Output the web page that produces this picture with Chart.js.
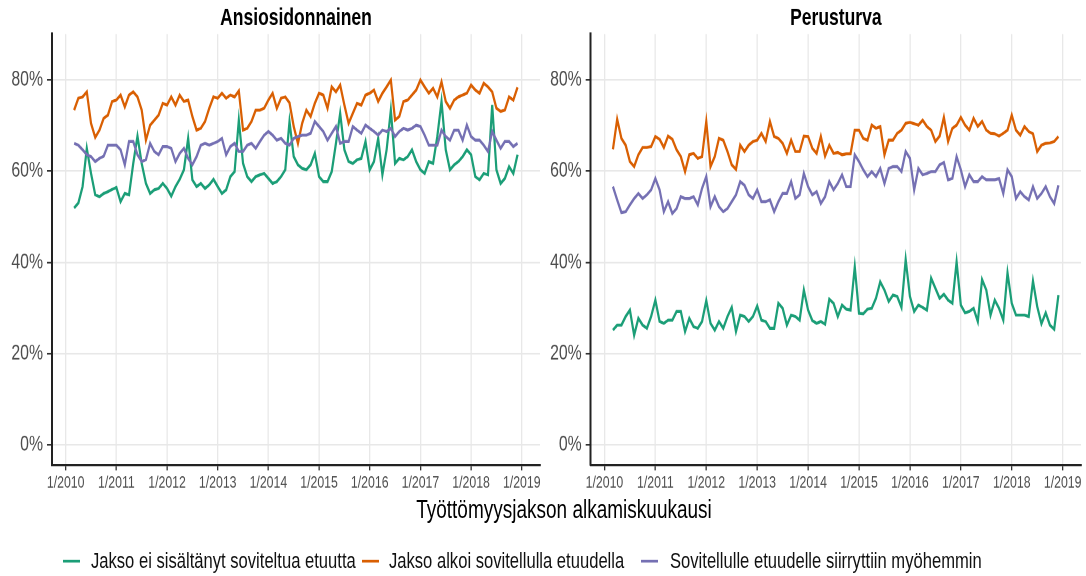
<!DOCTYPE html>
<html>
<head>
<meta charset="utf-8">
<script src="https://cdn.jsdelivr.net/npm/chart.js@4/dist/chart.umd.min.js"></script>
<style>
  html, body { margin: 0; padding: 0; background: #fff; overflow: hidden; }
  /* the reference is drawn on a 1086x427 sheet that is stretched vertically */
  #page {
    position: absolute; left: 0; top: 0; width: 1086px; height: 427px;
    transform-origin: 0 0; transform: scale(1, 1.349);
    font-family: "Liberation Sans", Arial, sans-serif;
  }
  #leftCanvas { position: absolute; left: 0; top: 0; }
  #rightCanvas { position: absolute; left: 545px; top: 0; }
  .xtitle {
    position: absolute; left: 364px; top: 367px; width: 400px;
    text-align: center; font-size: 19px; line-height: 22px; color: #000;
  }
  .swatch { position: absolute; top: 415px; width: 17px; height: 2.4px; }
  .legtext { position: absolute; top: 406px; font-size: 16.6px; line-height: 20px; color: #111; white-space: nowrap; }
</style>
</head>
<body>
<div id="page">
  <canvas id="leftCanvas" width="545" height="370"></canvas>
  <canvas id="rightCanvas" width="541" height="370"></canvas>
  <div class="xtitle">Työttömyysjakson alkamiskuukausi</div>
  <div class="swatch" style="left:63px;background:#1B9E77"></div>
  <div class="legtext" style="left:91px">Jakso ei sisältänyt soviteltua etuutta</div>
  <div class="swatch" style="left:362px;background:#D95F02"></div>
  <div class="legtext" style="left:389px">Jakso alkoi sovitellulla etuudella</div>
  <div class="swatch" style="left:641px;background:#7570B3"></div>
  <div class="legtext" style="left:670px">Sovitellulle etuudelle siirryttiin myöhemmin</div>
</div>
<script>
// Monthly series, 3/2010 ... 12/2018 (106 months), values in percent
const firstYear = 2010;
const firstMonth = 3;

const seriesNames = [
    'Jakso ei sisältänyt soviteltua etuutta',
    'Jakso alkoi sovitellulla etuudella',
    'Sovitellulle etuudelle siirryttiin myöhemmin'
];
const seriesColors = ['#1B9E77', '#D95F02', '#7570B3'];

const yearTicks = [2010, 2011, 2012, 2013, 2014, 2015, 2016, 2017, 2018, 2019];
const percentTicks = [0, 20, 40, 60, 80];

// Ansiosidonnainen
const ansioGreen = [
    51.9, 53.0, 56.6, 65.0, 59.5, 54.8, 54.4, 55.1, 55.5, 56.0,
    56.4, 53.3, 55.1, 54.8, 61.7, 67.7, 61.7, 57.3, 55.1, 55.9,
    56.2, 57.3, 56.2, 54.5, 56.6, 58.2, 60.3, 67.2, 58.1, 56.6,
    57.3, 56.2, 57.0, 58.2, 56.6, 55.1, 55.9, 58.8, 59.9, 71.2,
    61.7, 58.8, 57.7, 58.8, 59.2, 59.5, 58.4, 57.3, 57.7, 58.8,
    60.3, 70.9, 63.2, 61.4, 60.6, 60.3, 61.4, 63.9, 58.8, 57.7,
    57.7, 59.9, 66.1, 72.7, 64.7, 62.1, 61.7, 62.5, 62.8, 66.5,
    60.3, 62.1, 67.2, 59.2, 64.7, 73.4, 61.7, 62.8, 62.5, 63.2,
    64.7, 62.1, 60.3, 59.5, 62.1, 61.7, 67.6, 75.3, 64.7, 60.3,
    61.4, 62.1, 63.2, 64.7, 63.6, 58.8, 58.1, 59.5, 59.2, 74.5,
    60.3, 57.3, 58.4, 61.0, 59.5, 63.6
];
const ansioOrange = [
    73.4, 76.0, 76.3, 77.4, 70.5, 67.4, 69.0, 71.6, 72.3, 75.3,
    75.6, 76.7, 74.1, 76.7, 77.4, 76.3, 73.4, 66.8, 70.1, 71.2,
    72.3, 74.9, 74.5, 76.3, 74.5, 76.7, 75.3, 75.6, 72.0, 69.0,
    69.4, 70.9, 73.8, 76.3, 76.0, 77.1, 76.0, 76.7, 76.3, 77.6,
    69.0, 69.4, 70.9, 73.4, 73.4, 73.8, 75.6, 77.1, 73.8, 76.0,
    76.3, 75.0, 69.8, 66.1, 70.5, 73.4, 72.0, 74.9, 77.1, 76.7,
    73.8, 78.5, 77.4, 78.9, 74.5, 70.5, 72.7, 74.9, 74.5, 76.7,
    77.1, 77.8, 75.3, 77.1, 78.5, 80.0, 71.2, 72.0, 75.3, 75.6,
    76.7, 77.8, 80.0, 78.5, 77.1, 78.2, 76.3, 79.6, 75.3, 73.8,
    75.6, 76.3, 76.7, 77.1, 78.9, 77.8, 77.1, 79.3, 78.5, 77.4,
    73.8, 73.1, 73.4, 76.3, 75.6, 78.4
];
const ansioPurple = [
    66.1, 65.7, 64.7, 63.6, 63.2, 62.1, 62.8, 63.3, 65.7, 65.7,
    65.7, 64.7, 61.4, 66.5, 66.5, 63.6, 62.1, 62.5, 66.1, 64.3,
    63.6, 65.4, 65.4, 65.0, 62.1, 63.9, 65.0, 62.8, 61.4, 63.2,
    65.7, 66.1, 65.7, 66.1, 66.5, 67.2, 63.6, 65.4, 66.1, 64.3,
    64.3, 65.7, 66.1, 65.0, 66.5, 67.9, 68.7, 67.9, 66.8, 67.2,
    66.1, 65.7, 67.2, 67.6, 67.9, 67.9, 68.3, 70.9, 69.8, 68.7,
    66.8, 68.3, 69.8, 66.1, 66.5, 66.5, 69.8, 69.0, 68.3, 70.1,
    69.4, 68.7, 67.9, 69.0, 68.7, 69.4, 67.6, 68.7, 69.4, 69.0,
    69.4, 70.1, 69.8, 67.9, 65.7, 65.7, 65.7, 69.0, 67.6, 66.8,
    69.0, 69.0, 66.8, 70.1, 67.6, 66.8, 66.8, 65.7, 64.3, 68.7,
    66.8, 65.0, 66.5, 66.5, 65.4, 66.1
];

// Perusturva
const perusGreen = [
    25.1, 26.2, 26.2, 28.1, 29.5, 24.0, 27.7, 26.2, 25.5, 28.1,
    31.7, 27.0, 26.6, 27.3, 27.3, 29.2, 29.2, 24.8, 27.7, 25.9,
    25.5, 27.0, 31.6, 26.6, 25.1, 27.0, 25.5, 28.1, 30.1, 24.8,
    28.4, 28.1, 27.0, 28.1, 30.4, 27.3, 27.0, 25.5, 25.5, 31.0,
    29.9, 26.2, 28.4, 28.1, 27.3, 33.9, 29.5, 27.2, 26.6, 27.0,
    26.4, 31.9, 31.0, 28.1, 30.6, 29.7, 29.5, 39.0, 28.8, 28.7,
    29.7, 29.9, 32.1, 35.7, 33.9, 31.4, 32.8, 32.5, 30.1, 40.6,
    32.5, 29.2, 30.6, 30.1, 29.5, 36.5, 34.3, 32.1, 33.0, 31.7,
    31.0, 40.1, 30.6, 28.9, 29.2, 29.9, 27.0, 36.2, 33.9, 28.4,
    31.7, 29.9, 27.3, 37.7, 31.0, 28.4, 28.4, 28.4, 28.1, 35.9,
    30.3, 26.5, 28.9, 26.2, 25.3, 32.8
];
const perusOrange = [
    64.8, 71.4, 67.2, 65.7, 62.1, 61.0, 63.6, 65.2, 65.2, 65.4,
    67.6, 67.0, 65.2, 67.7, 67.0, 64.7, 63.2, 59.9, 63.6, 63.9,
    62.8, 63.2, 70.9, 61.0, 63.2, 67.2, 66.8, 64.3, 61.4, 60.4,
    65.7, 64.3, 65.7, 66.5, 66.8, 68.3, 66.5, 70.9, 67.6, 67.2,
    66.1, 63.9, 66.8, 64.3, 64.3, 67.7, 67.6, 65.0, 63.9, 67.6,
    63.3, 65.7, 63.9, 64.1, 63.6, 63.8, 63.8, 69.0, 69.0, 67.2,
    66.8, 70.1, 69.4, 69.8, 63.6, 66.8, 66.8, 68.3, 69.0, 70.5,
    70.7, 70.4, 70.1, 71.2, 69.8, 69.0, 66.5, 67.7, 71.8, 66.5,
    69.4, 70.1, 71.8, 70.1, 69.0, 71.6, 69.8, 70.9, 69.0, 68.3,
    68.2, 67.7, 68.3, 69.0, 72.3, 69.0, 67.9, 69.8, 68.7, 68.2,
    64.3, 65.7, 66.1, 66.2, 66.5, 67.6
];
const perusPurple = [
    56.6, 53.7, 50.9, 51.1, 52.6, 54.0, 55.1, 54.0, 54.8, 55.9,
    58.4, 55.9, 51.1, 53.3, 50.7, 51.8, 54.4, 54.0, 54.0, 54.4,
    52.6, 56.2, 58.8, 52.2, 54.4, 52.2, 51.1, 51.8, 53.3, 54.8,
    57.7, 56.9, 54.8, 54.0, 55.9, 53.3, 53.3, 53.7, 51.1, 53.3,
    55.1, 55.1, 57.7, 54.0, 54.8, 59.5, 56.6, 54.8, 55.5, 52.9,
    54.4, 57.7, 55.9, 57.3, 59.2, 56.6, 56.6, 63.6, 62.1, 60.3,
    58.8, 59.9, 58.8, 60.6, 57.3, 60.6, 61.0, 61.0, 59.9, 64.3,
    62.8, 55.9, 60.6, 59.2, 59.5, 59.9, 59.9, 61.4, 61.9, 58.1,
    58.4, 63.2, 60.3, 56.6, 59.2, 57.7, 57.7, 58.8, 58.1, 58.1,
    58.1, 58.4, 55.1, 60.3, 58.8, 54.0, 55.5, 54.4, 53.7, 56.6,
    54.0, 55.1, 56.6, 54.4, 52.9, 56.9
];

const FONT = '"Liberation Sans", Arial, sans-serif';

// month index -> decimal year position on the x axis
function monthPos(i) {
    return firstYear + (firstMonth - 1 + i) / 12;
}

function toPoints(values) {
    return values.map((v, i) => ({ x: monthPos(i), y: v }));
}

function makePanel(canvasId, title, green, orange, purple, yAxisWidth) {
    const lists = [green, orange, purple];
    const datasets = lists.map((vals, k) => ({
        label: seriesNames[k],
        data: toPoints(vals),
        borderColor: seriesColors[k],
        backgroundColor: seriesColors[k],
        borderWidth: 2.2,
        pointRadius: 0,
        tension: 0,
        order: 3 - k   // last series drawn on top, like ggplot
    }));

    const gridStyle = { color: '#e8e8e8', lineWidth: 1.3, tickColor: '#333', tickWidth: 1.3 };

    return new Chart(document.getElementById(canvasId), {
        type: 'line',
        data: { datasets: datasets },
        options: {
            responsive: false,
            animation: false,
            devicePixelRatio: 2,
            layout: { padding: { left: 0, right: 5, top: 0, bottom: 0 } },
            plugins: {
                legend: { display: false },
                tooltip: { enabled: false },
                title: {
                    display: true,
                    text: title,
                    fullSize: false,
                    color: '#000',
                    font: { family: FONT, size: 17.5, weight: 'bold', lineHeight: 1.2 },
                    padding: { top: 3, bottom: 1.2 }
                }
            },
            scales: {
                x: {
                    type: 'linear',
                    min: 2009.73,
                    max: 2019.36,
                    afterBuildTicks: s => { s.ticks = yearTicks.map(v => ({ value: v })); },
                    afterFit: s => { s.height = 25.3; },
                    ticks: {
                        callback: v => '1/' + v,
                        color: '#4d4d4d',
                        font: { family: FONT, size: 12.3 },
                        padding: 2,
                        maxRotation: 0,
                        autoSkip: false
                    },
                    grid: Object.assign({ tickLength: 4 }, gridStyle),
                    border: { display: true, color: '#222', width: 1.6 }
                },
                y: {
                    min: -4.5,
                    max: 90.1,
                    afterBuildTicks: s => { s.ticks = percentTicks.map(v => ({ value: v })); },
                    afterFit: s => { s.width = yAxisWidth; },
                    ticks: {
                        callback: v => v + '%',
                        color: '#4d4d4d',
                        font: { family: FONT, size: 15.8 },
                        padding: 4
                    },
                    grid: Object.assign({ tickLength: 5 }, gridStyle),
                    border: { display: true, color: '#222', width: 2 }
                }
            }
        }
    });
}

makePanel('leftCanvas', 'Ansiosidonnainen', ansioGreen, ansioOrange, ansioPurple, 52);
makePanel('rightCanvas', 'Perusturva', perusGreen, perusOrange, perusPurple, 45.7);
</script>
</body>
</html>
